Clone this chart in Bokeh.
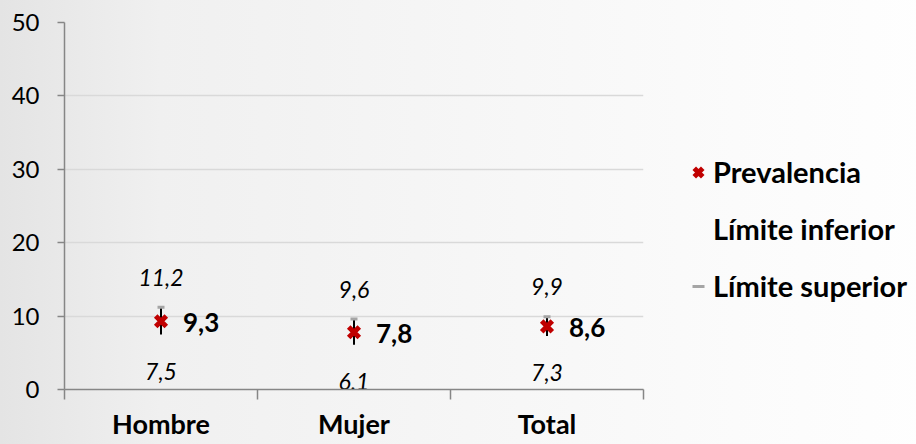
from bokeh.plotting import figure
from bokeh.models import Range1d, FixedTicker, Legend, LegendItem, ColumnDataSource
from bokeh.core.properties import value
from bokeh.embed import file_html
from bokeh.resources import INLINE

categories = ["Hombre", "Mujer", "Total"]
prevalencia = [9.3, 7.8, 8.6]
limite_inferior = [7.5, 6.1, 7.3]
limite_superior = [11.2, 9.6, 9.9]
y_ticks = [0, 10, 20, 30, 40, 50]

FONT = "Lato"
AXIS_COLOR = "#868686"
GRADIENT = ("linear-gradient(to right, #e4e4e4 0%, #f0f0f0 12%, "
            "#f6f6f6 35%, #fbfbfb 55%, #ffffff 75%)")


def fmt(v):
    return f"{v:.1f}".replace(".", ",")


xs = [i + 0.5 for i in range(len(categories))]
bounds = list(range(len(categories) + 1))

src = ColumnDataSource(dict(
    x=xs, cat=categories, prev=prevalencia, lo=limite_inferior, hi=limite_superior,
    prev_lbl=[fmt(v) for v in prevalencia],
    lo_lbl=[fmt(v) for v in limite_inferior],
    hi_lbl=[fmt(v) for v in limite_superior],
))

p = figure(frame_width=579, frame_height=367,
           x_range=Range1d(0, len(categories)), y_range=Range1d(0, 50),
           output_backend="svg", toolbar_location=None,
           min_border_left=64, min_border_top=22, min_border_right=273,
           min_border_bottom=55)
p.border_fill_color = None
p.background_fill_color = None
p.outline_line_color = None
p.styles = {"background": GRADIENT}

# x axis
xa = p.xaxis[0]
xa.ticker = FixedTicker(ticks=xs, minor_ticks=bounds)
xa.major_label_overrides = {x: c for x, c in zip(xs, categories)}
xa.major_tick_line_color = None
xa.major_tick_out = 0
xa.major_tick_in = 0
xa.minor_tick_out = 10
xa.minor_tick_in = 0
xa.minor_tick_line_color = AXIS_COLOR
xa.minor_tick_line_width = 1.5
xa.axis_line_color = AXIS_COLOR
xa.axis_line_width = 1.5
xa.major_label_standoff = 7
xa.major_label_text_font = FONT
xa.major_label_text_font_style = "bold"
xa.major_label_text_font_size = "27px"
xa.major_label_text_color = "#000000"

# y axis
ya = p.yaxis[0]
ya.ticker = FixedTicker(ticks=y_ticks)
ya.minor_tick_line_color = None
ya.major_tick_out = 7
ya.major_tick_in = 0
ya.major_tick_line_color = AXIS_COLOR
ya.major_tick_line_width = 1.5
ya.axis_line_color = AXIS_COLOR
ya.axis_line_width = 1.5
ya.major_label_standoff = 18
ya.major_label_text_font = FONT
ya.major_label_text_font_size = "24px"
ya.major_label_text_color = "#000000"

p.xgrid.visible = False
p.ygrid.grid_line_color = "#d9d9d9"
p.ygrid.grid_line_width = 1.5

# hi-lo lines
p.segment(x0="x", y0="lo", x1="x", y1="hi", source=src,
          line_color="black", line_width=2)
r_lo = p.scatter("x", "lo", source=src, marker="dash", size=8,
                 fill_alpha=0, line_alpha=0)
r_hi = p.scatter("x", "hi", source=src, marker="dash", size=7,
                 line_color="#a5a5a5", line_width=3)
r_prev = p.scatter("x", "prev", source=src, marker="x", size=15,
                   line_color="#c00000", line_width=5)

# data labels
p.text("x", "hi", text="hi_lbl", source=src, text_font=value(FONT),
       text_font_style="italic", text_font_size="23px", text_color="#000000",
       text_align="center", text_baseline="middle", y_offset=-30)
p.text("x", "lo", text="lo_lbl", source=src, text_font=value(FONT),
       text_font_style="italic", text_font_size="23px", text_color="#000000",
       text_align="center", text_baseline="middle", y_offset=37)
p.text("x", "prev", text="prev_lbl", source=src, text_font=value(FONT),
       text_font_style="bold", text_font_size="26px", text_color="#000000",
       text_align="left", text_baseline="middle", x_offset=22, y_offset=1)

legend = Legend(items=[
    LegendItem(label="Prevalencia", renderers=[r_prev]),
    LegendItem(label="Límite inferior", renderers=[r_lo]),
    LegendItem(label="Límite superior", renderers=[r_hi]),
], location=(40, 86))
legend.label_text_font = FONT
legend.label_text_font_style = "bold"
legend.label_text_font_size = "29px"
legend.label_text_color = "#000000"
legend.glyph_width = 30
legend.glyph_height = 34
legend.label_height = 34
legend.spacing = 22
legend.label_standoff = 0
legend.padding = 0
legend.margin = 0
legend.border_line_color = None
legend.background_fill_alpha = 0
p.add_layout(legend, "right")

html = file_html(p, INLINE)
html = html.replace(
    "<body>", '<body style="background: ' + GRADIENT + ';">', 1)
open("out.html", "w").write(html)
